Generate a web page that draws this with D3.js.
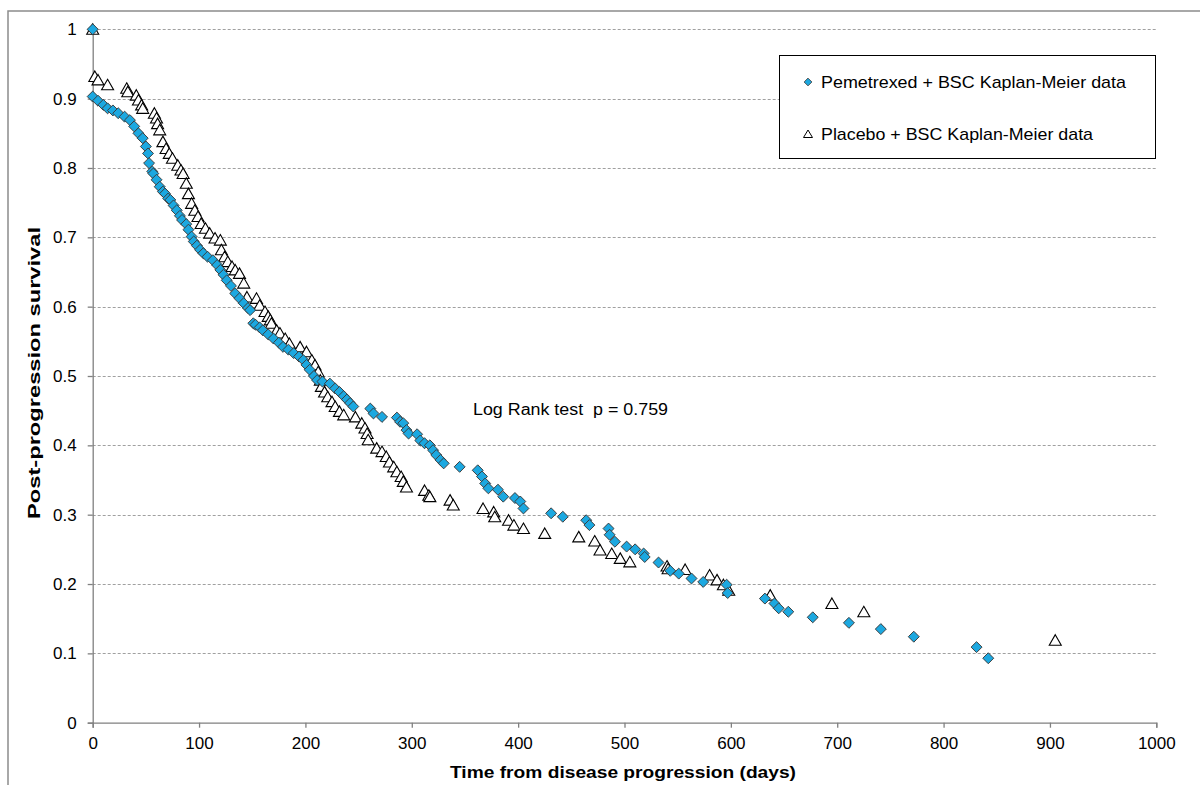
<!DOCTYPE html>
<html lang="en">
<head>
  <meta charset="UTF-8">
  <title>Post-progression survival</title>
  <style>
    body { margin: 0; background: #fff; overflow: hidden; }
    svg { font-family: 'Liberation Sans', Arial, sans-serif; }
    .tick text { font-size: 17px; fill: #000; }
    .grid line { stroke: #a0a0a0; stroke-dasharray: 3,2; }
  </style>
</head>
<body>
  <svg width="1200" height="785"></svg>

  <script src="https://d3js.org/d3.v7.min.js"></script>
  <script>
    // Pemetrexed + BSC, Kaplan-Meier (days, survival)
    var pemDays = [0, 0, 5, 10, 14, 19, 24, 30, 35, 39, 43, 47, 50, 52, 53, 56, 57, 60, 63, 66, 68, 71, 73, 76, 79, 82, 84, 88, 90, 93,
      95, 98, 101, 104, 108, 113, 117, 120, 123, 126, 130, 134, 138, 142, 146, 148, 151, 153, 157, 160, 165, 170, 175, 179, 184,
      189, 194, 198, 201, 204, 208, 211, 216, 223, 228, 232, 236, 239, 242, 245, 261, 264, 272, 286, 289, 292, 295, 297, 305, 308,
      312, 317, 320, 323, 327, 330, 345, 362, 366, 369, 372, 381, 386, 397, 402, 405, 431, 442, 464, 467, 485, 486, 491, 502, 510,
      518, 519, 532, 543, 551, 563, 574, 596, 597, 632, 641, 645, 654, 677, 711, 741, 772, 831, 842];
    var pemSurv = [1.0, 0.903, 0.897, 0.891, 0.886, 0.883, 0.879, 0.874, 0.869, 0.860, 0.850, 0.843, 0.831, 0.821, 0.807, 0.795, 0.792,
      0.783, 0.773, 0.766, 0.763, 0.756, 0.754, 0.746, 0.739, 0.731, 0.725, 0.719, 0.711, 0.701, 0.694, 0.688, 0.682, 0.677, 0.672,
      0.667, 0.660, 0.653, 0.646, 0.638, 0.630, 0.619, 0.612, 0.605, 0.598, 0.595, 0.576, 0.574, 0.570, 0.566, 0.560, 0.554, 0.548,
      0.542, 0.538, 0.533, 0.528, 0.523, 0.516, 0.509, 0.500, 0.494, 0.492, 0.489, 0.482, 0.477, 0.471, 0.466, 0.461, 0.456, 0.453,
      0.446, 0.441, 0.440, 0.434, 0.432, 0.422, 0.417, 0.416, 0.407, 0.403, 0.400, 0.393, 0.386, 0.379, 0.374, 0.369, 0.364, 0.355,
      0.345, 0.338, 0.336, 0.326, 0.324, 0.319, 0.309, 0.302, 0.297, 0.292, 0.285, 0.280, 0.271, 0.261, 0.254, 0.250, 0.244, 0.239,
      0.231, 0.219, 0.215, 0.208, 0.203, 0.199, 0.187, 0.179, 0.172, 0.165, 0.160, 0.152, 0.144, 0.135, 0.124, 0.109, 0.093];

    // Placebo + BSC, Kaplan-Meier (days, survival)
    var plaDays = [0, 2, 5, 14, 32, 33, 41, 43, 46, 47, 58, 60, 61, 63, 66, 69, 72, 75, 80, 83, 85, 88, 90, 93, 96, 99, 102, 106, 110,
      115, 120, 121, 124, 127, 131, 134, 138, 142, 145, 154, 157, 162, 165, 167, 168, 173, 176, 181, 185, 195, 201, 206, 209, 212,
      214, 215, 218, 221, 225, 228, 232, 236, 247, 253, 256, 258, 259, 267, 272, 276, 279, 283, 286, 290, 292, 295, 312, 316, 317,
      336, 339, 367, 377, 378, 391, 396, 405, 425, 457, 472, 477, 488, 496, 505, 540, 541, 557, 580, 587, 593, 598, 637, 695, 725, 905];
    var plaSurv = [1.0, 0.932, 0.927, 0.920, 0.915, 0.910, 0.905, 0.898, 0.891, 0.886, 0.879, 0.872, 0.864, 0.855, 0.838, 0.828, 0.821,
      0.814, 0.804, 0.797, 0.792, 0.778, 0.763, 0.749, 0.739, 0.730, 0.720, 0.713, 0.706, 0.699, 0.696, 0.682, 0.672, 0.665, 0.658,
      0.653, 0.648, 0.634, 0.614, 0.612, 0.602, 0.593, 0.586, 0.581, 0.576, 0.566, 0.562, 0.554, 0.547, 0.542, 0.535, 0.523, 0.516,
      0.506, 0.494, 0.485, 0.477, 0.470, 0.463, 0.456, 0.449, 0.444, 0.441, 0.432, 0.425, 0.417, 0.408, 0.396, 0.391, 0.384, 0.376,
      0.369, 0.362, 0.355, 0.348, 0.340, 0.335, 0.328, 0.326, 0.321, 0.314, 0.309, 0.304, 0.297, 0.292, 0.285, 0.280, 0.273, 0.268,
      0.262, 0.249, 0.244, 0.237, 0.232, 0.226, 0.222, 0.221, 0.213, 0.206, 0.199, 0.191, 0.184, 0.172, 0.160, 0.119];

    var xTicks = [0, 100, 200, 300, 400, 500, 600, 700, 800, 900, 1000];
    var yTicks = [0, 0.1, 0.2, 0.3, 0.4, 0.5, 0.6, 0.7, 0.8, 0.9, 1];
    var seriesNames = ['Pemetrexed + BSC Kaplan-Meier data', 'Placebo + BSC Kaplan-Meier data'];

    var svg = d3.select('svg');
    var x = d3.scaleLinear().domain([0, 1000]).range([92.7, 1156.3]);
    var y = d3.scaleLinear().domain([0, 1]).range([722.7, 29.3]);

    // chart area border (only left and top edges fall inside the picture)
    svg.append('rect')
      .attr('x', 8).attr('y', 11)
      .attr('width', 1300).attr('height', 900)
      .attr('fill', 'none').attr('stroke', '#8c8c8c').attr('stroke-width', 1.5);

    // gridlines
    svg.append('g').attr('class', 'grid')
      .selectAll('line').data(yTicks.filter(function(d) { return d > 0; }))
      .enter().append('line')
        .attr('x1', x(0)).attr('x2', x(1000))
        .attr('y1', function(d) { return Math.round(y(d)) + 0.5; })
        .attr('y2', function(d) { return Math.round(y(d)) + 0.5; });

    var xAxis = svg.append('g')
      .attr('transform', 'translate(0,' + y(0) + ')')
      .call(d3.axisBottom(x).tickValues(xTicks).tickSize(5).tickPadding(9).tickFormat(d3.format('d')));
    var yAxis = svg.append('g')
      .attr('transform', 'translate(' + x(0) + ',0)')
      .call(d3.axisLeft(y).tickValues(yTicks).tickSize(5).tickPadding(11).tickFormat(function(d) { return d === 0 || d === 1 ? d : d.toFixed(1); }));
    [xAxis, yAxis].forEach(function(a) {
      a.selectAll('.domain, .tick line').attr('stroke', '#808080').attr('stroke-width', 1.3);
    });

    // axis titles
    svg.append('text')
      .attr('x', 623).attr('y', 778)
      .attr('text-anchor', 'middle')
      .attr('textLength', 346).attr('lengthAdjust', 'spacingAndGlyphs')
      .style('font-size', '17px').style('font-weight', 'bold')
      .text('Time from disease progression (days)');
    svg.append('text')
      .attr('transform', 'translate(40,373) rotate(-90)')
      .attr('text-anchor', 'middle')
      .attr('textLength', 292).attr('lengthAdjust', 'spacingAndGlyphs')
      .style('font-size', '17px').style('font-weight', 'bold')
      .text('Post-progression survival');

    svg.append('text')
      .attr('x', 473).attr('y', 415)
      .attr('textLength', 195).attr('lengthAdjust', 'spacingAndGlyphs')
      .style('font-size', '16px')
      .text('Log Rank test\u00a0\u00a0p = 0.759');

    var diamond = d3.symbol().type(d3.symbolSquare).size(60)();
    var triangle = 'M0,-5.5L6,5L-6,5Z';

    var pem = pemDays.map(function(d, i) { return [d, pemSurv[i]]; });
    var pla = plaDays.map(function(d, i) { return [d, plaSurv[i]]; });

    svg.append('g').selectAll('path').data(pla).enter().append('path')
      .attr('d', triangle)
      .attr('transform', function(d) { return 'translate(' + x(d[0]) + ',' + y(d[1]) + ')'; })
      .attr('fill', '#fff').attr('stroke', '#000').attr('stroke-width', 1.1);

    svg.append('g').selectAll('path').data(pem).enter().append('path')
      .attr('d', diamond)
      .attr('transform', function(d) { return 'translate(' + x(d[0]) + ',' + y(d[1]) + ') rotate(45)'; })
      .attr('fill', '#1ca8e0').attr('stroke', '#3a3a3a').attr('stroke-width', 0.9);

    // legend
    var legend = svg.append('g');
    legend.append('rect')
      .attr('x', 779.5).attr('y', 55.5).attr('width', 376).attr('height', 103)
      .attr('fill', '#fff').attr('stroke', '#000').attr('stroke-width', 1);
    legend.append('path')
      .attr('d', d3.symbol().type(d3.symbolSquare).size(30)())
      .attr('transform', 'translate(808,82) rotate(45)')
      .attr('fill', '#1ca8e0').attr('stroke', '#3a3a3a').attr('stroke-width', 0.8);
    legend.append('path')
      .attr('d', 'M0,-4L4.5,3.5L-4.5,3.5Z')
      .attr('transform', 'translate(808,134)')
      .attr('fill', '#fff').attr('stroke', '#000').attr('stroke-width', 1);
    var legendLen = [305, 272];
    legend.selectAll('text').data(seriesNames).enter().append('text')
      .attr('x', 821)
      .attr('y', function(d, i) { return i === 0 ? 88 : 140; })
      .attr('textLength', function(d, i) { return legendLen[i]; })
      .attr('lengthAdjust', 'spacingAndGlyphs')
      .style('font-size', '17px')
      .text(function(d) { return d; });
  </script>
</body>
</html>
